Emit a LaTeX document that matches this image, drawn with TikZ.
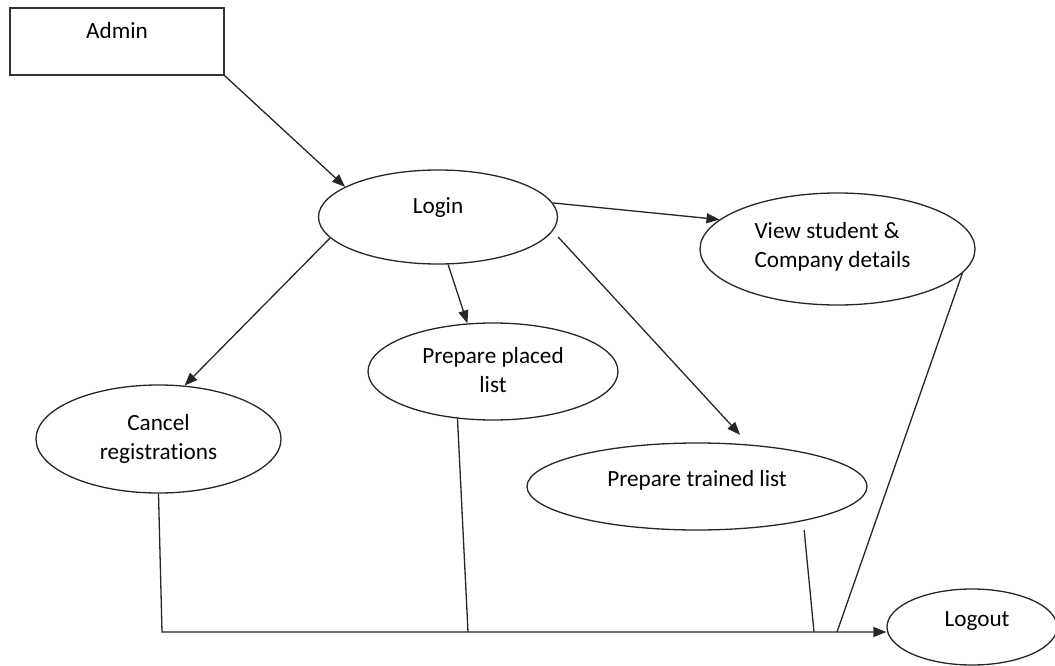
\documentclass[tikz,border=0pt]{standalone}
\usepackage{fontspec}
\setmainfont{Carlito}[RawFeature={-liga;-calt;-clig}]
\usetikzlibrary{arrows.meta,shapes.geometric}
\begin{document}
\begin{tikzpicture}[x=1pt,y=-1pt,line width=1.3pt,
  every node/.style={font=\fontsize{23.2}{29}\selectfont},
  proc/.style={ellipse,draw=black!85,inner sep=0pt},
  box/.style={rectangle,draw=black!80,inner sep=0pt},
  txt/.style={align=center,inner sep=0pt},
  flow/.style={draw=black!85,-{Triangle[length=13pt,width=10pt]}},
  link/.style={draw=black!85}]
\useasboundingbox (0,0) rectangle (1055,666);

\node[box,minimum width=214pt,minimum height=67pt,
  label={[txt,yshift=10.5pt]center:Admin}] (admin) at (117,41.5) {};
\node[proc,minimum width=239pt,minimum height=94pt,
  label={[txt,yshift=9.5pt]center:Login}] (login) at (438,217) {};
\node[proc,minimum width=275pt,minimum height=112pt,
  label={[txt,align=left,xshift=-5pt,yshift=2.5pt]center:{View student \&\\Company details}}] (view) at (837.5,249) {};
\node[proc,minimum width=250pt,minimum height=97pt,
  label={[txt,yshift=1pt]center:{Prepare placed\\list}}] (placed) at (493,371.5) {};
\node[proc,minimum width=245pt,minimum height=108pt,
  label={[txt]center:{Cancel\\registrat\kern0pt ions}}] (cancel) at (158.5,439) {};
\node[proc,minimum width=340pt,minimum height=87pt,
  label={[txt,yshift=6pt]center:Prepare trained list}] (trained) at (697,486.5) {};
\node[proc,minimum width=170pt,minimum height=76pt,
  label={[txt,xshift=5pt,yshift=5.5pt]center:Logout}] (logout) at (972,627) {};

\coordinate (bend) at (162,632);
\coordinate (jp) at (468,632);
\coordinate (jt) at (814,632);
\coordinate (jv) at (837,632);

\draw[flow] (admin.south east) -- (login.162);
\draw[flow] (login.7) -- (view.166);
\draw[flow] (login.-78) -- (placed.118);
\draw[flow] (login.191) -- (cancel.64);
\draw[flow,shorten <=8pt,shorten >=13pt] (login.-7.5) -- (trained.39);

\draw[flow] (cancel.south) -- (bend) -- (bend -| logout.west);
\draw[link] (placed.-127) -- (jp);
\draw[link,shorten <=9pt] (trained.-18.35) -- (jt);
\draw[link] (view.-11.8) -- (jv);
\end{tikzpicture}
\end{document}
